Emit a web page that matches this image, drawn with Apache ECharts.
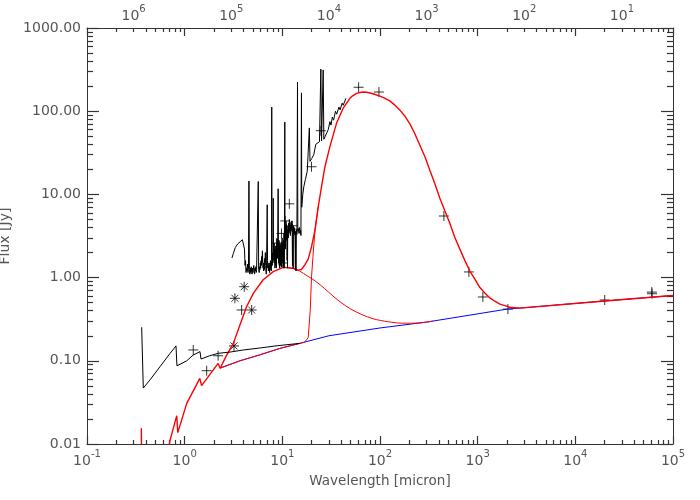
<!DOCTYPE html>
<html>
<head>
<meta charset="utf-8">
<script src="https://cdn.jsdelivr.net/npm/echarts@6.0.0/dist/echarts.min.js"></script>
<style>
  html, body { margin: 0; padding: 0; background: #fff; }
  #chart { width: 700px; height: 500px; }
</style>
</head>
<body>
<div id="chart"></div>
<script>
// SED: wavelength [micron] vs flux [Jy]

// stellar model (black, short wavelengths)
var starModel = [
  [0.363, 0.253], [0.377, 0.047], [0.442, 0.059], [0.559, 0.085], [0.71, 0.123],
  [0.815, 0.151], [0.834, 0.087], [1.05, 0.10], [1.22, 0.117], [1.435, 0.129],
  [1.47, 0.105], [1.8, 0.115], [2.21, 0.123], [2.3, 0.118], [3.0, 0.128],
  [4.0, 0.135], [6.0, 0.143], [9.0, 0.152], [15.1, 0.162]
];

// ISO spectrum (black)
var spectrum = [
  [3.05, 1.72], [3.15, 1.95], [3.3, 2.3], [3.5, 2.55], [3.7, 2.7], [3.9, 2.85], [4.0, 3.0],
  [4.1, 2.2], [4.15, 1.4], [4.2, 1.6], [4.25, 1.15], [4.3, 1.3], [4.35, 1.2], [4.4, 1.45],
  [4.45, 1.15], [4.5, 1.3], [4.55, 14.5], [4.6, 1.25], [4.65, 1.1], [4.7, 1.3], [4.75, 1.15],
  [4.8, 1.35], [4.85, 1.2], [4.9, 1.1], [4.95, 1.3], [5.0, 1.15], [5.05, 1.25], [5.1, 1.4],
  [5.15, 1.2], [5.2, 1.1], [5.25, 1.3], [5.3, 1.2], [5.35, 1.35], [5.4, 1.15], [5.45, 1.25],
  [5.5, 1.2], [5.55, 1.3], [5.6, 1.2], [5.67, 14.3], [5.72, 1.25], [5.8, 1.15], [5.85, 1.35],
  [5.9, 1.25], [5.95, 1.5], [6.0, 1.3], [6.05, 1.6], [6.1, 1.4], [6.15, 1.8], [6.2, 1.5],
  [6.25, 2.1], [6.3, 1.6], [6.35, 1.3], [6.4, 1.5], [6.45, 1.2], [6.5, 1.4], [6.55, 1.25],
  [6.6, 1.7], [6.65, 1.5], [6.7, 2.0], [6.75, 1.4], [6.8, 1.2], [6.85, 1.1], [6.9, 1.5],
  [7.0, 7.5], [7.05, 1.6], [7.1, 1.3], [7.15, 1.5], [7.2, 1.2], [7.25, 1.4], [7.3, 1.2],
  [7.35, 1.35], [7.4, 1.15], [7.45, 1.5], [7.5, 1.3], [7.55, 1.6], [7.6, 1.25], [7.65, 1.5],
  [7.7, 1.2], [7.75, 1.6], [7.79, 112], [7.83, 1.7], [7.9, 1.4], [7.95, 2.0], [8.0, 1.5],
  [8.07, 9.0], [8.12, 2.2], [8.2, 1.6], [8.25, 2.6], [8.3, 1.5], [8.35, 2.2], [8.4, 1.3],
  [8.45, 1.8], [8.5, 1.4], [8.55, 2.4], [8.6, 1.6], [8.65, 2.2], [8.7, 1.3], [8.75, 2.5],
  [8.8, 1.8], [8.85, 2.9], [8.9, 1.7], [8.95, 2.3], [9.06, 11.7], [9.12, 2.6], [9.2, 1.5],
  [9.25, 2.8], [9.3, 1.4], [9.35, 2.3], [9.4, 1.3], [9.45, 2.6], [9.5, 1.6], [9.55, 2.2],
  [9.6, 1.4], [9.65, 2.5], [9.7, 1.5], [9.75, 2.3], [9.8, 1.35], [9.85, 2.7], [9.9, 1.6],
  [9.95, 3.0], [10.0, 1.8], [10.1, 2.6], [10.15, 1.5], [10.2, 2.4], [10.25, 1.3], [10.3, 2.8],
  [10.35, 1.6], [10.4, 3.4], [10.45, 1.3], [10.5, 2.5], [10.6, 74], [10.65, 3.0], [10.7, 3.6],
  [10.75, 2.2], [10.8, 4.2], [10.85, 3.0], [10.9, 4.8], [10.95, 3.2], [11.0, 4.4], [11.1, 2.8],
  [11.15, 3.8], [11.2, 1.6], [11.25, 3.4], [11.3, 1.3], [11.35, 3.6], [11.4, 4.2], [11.5, 3.0],
  [11.6, 4.5], [11.7, 3.4], [11.8, 5.0], [11.9, 3.6], [12.0, 4.6], [12.1, 3.2], [12.2, 4.2],
  [12.3, 3.6], [12.4, 4.8], [12.5, 3.8], [12.6, 4.4], [12.7, 1.4], [12.8, 3.8], [12.9, 1.3],
  [13.0, 4.2], [13.1, 3.4], [13.2, 4.0], [13.3, 3.3], [13.4, 3.9], [13.5, 3.0], [13.6, 1.25],
  [13.7, 3.6], [13.8, 1.2], [13.9, 3.4], [14.0, 3.8], [14.1, 3.3], [14.3, 224], [14.4, 3.6],
  [14.6, 3.9], [14.8, 3.4], [15.0, 4.0], [15.2, 3.4], [15.4, 3.7], [15.5, 3.2], [15.7, 166],
  [15.8, 7.0], [16.2, 10], [16.6, 12.4], [17.2, 15], [18.0, 19], [18.9, 63], [19.2, 25],
  [20, 27], [21, 30], [22, 40], [23, 38], [24, 43], [24.8, 321], [25.2, 44], [26.2, 313],
  [26.6, 46], [27.5, 50], [28.5, 48], [29.5, 60], [30.7, 75], [31.5, 68], [32.5, 85],
  [33.5, 78], [35, 100], [36, 92], [38, 112], [39, 104], [41, 125], [42, 118], [44.8, 143]
];

// photosphere + free-free (blue)
var baseline = [
  [2.3, 0.082], [3.68, 0.10], [5.9, 0.118], [9.45, 0.141], [15.1, 0.162], [30, 0.20],
  [100, 0.248], [300, 0.292], [2000, 0.418], [20000, 0.524], [100000, 0.61]
];

// total model (red)
var totalModel = [
  [0.36, 0.0155], [0.368, 0.0008], [0.6, 0.004], [0.71, 0.0112], [0.83, 0.0219], [0.85, 0.0137],
  [1.05, 0.0308], [1.43, 0.0616], [1.49, 0.0502], [2.2, 0.093], [2.31, 0.0813], [2.69, 0.117],
  [3.15, 0.162], [3.68, 0.269], [4.3, 0.447], [5.05, 0.647], [6.33, 0.936], [8.07, 1.18],
  [10.2, 1.33], [12.9, 1.29], [14.4, 1.23], [15.7, 1.25], [17.0, 1.42], [18.4, 1.67],
  [19.9, 2.35], [21.6, 3.73], [23.3, 7.1], [25.2, 12.4], [27.3, 21.5], [30.7, 37.5],
  [35.8, 71], [42, 109], [49.2, 143], [52, 152], [57.5, 164], [62, 168], [67.3, 170],
  [73, 169], [85, 162], [99.8, 152], [110, 145], [126, 133], [140, 120], [160, 103],
  [180, 87], [203, 70], [225, 55], [256, 39], [290, 28], [323, 19.6], [360, 14],
  [410, 9.0], [460, 6.4], [519, 4.5], [580, 3.1], [657, 2.2], [740, 1.6], [832, 1.2],
  [940, 0.95], [1054, 0.76], [1190, 0.65], [1334, 0.57], [1500, 0.52], [1688, 0.48],
  [1900, 0.46], [2136, 0.44], [2400, 0.435], [2705, 0.43], [20000, 0.524], [100000, 0.61]
];

// warm dust component (thin red)
var warmModel = [
  [10.2, 1.33], [12.9, 1.29], [15, 1.2], [18, 1.05], [22, 0.9], [27, 0.74], [33, 0.6],
  [40, 0.5], [50, 0.42], [65, 0.36], [85, 0.32], [120, 0.295], [170, 0.283], [250, 0.285],
  [350, 0.3]
];

// cold dust component (thin red)
var coldModel = [
  [2.31, 0.0813], [3.68, 0.10], [5.9, 0.118], [9.45, 0.141], [15.1, 0.162], [17.0, 0.168],
  [18.4, 0.19], [19.3, 0.4], [19.9, 1.02], [20.6, 1.8], [21.6, 3.73], [23.3, 7.1]
];

// photometry (+)
var photometry = [
  [1.225, 0.135], [1.68, 0.076], [2.2, 0.115], [3.83, 0.408], [8.7, 2.6], [9.8, 3.4],
  [10.1, 1.5], [10.7, 4.8], [11.8, 7.7], [12.7, 4.2], [19.9, 21.5], [24.8, 58.3],
  [60.4, 194], [97.5, 170], [451, 5.5], [813, 1.17], [1130, 0.585], [2040, 0.418],
  [20000, 0.538], [60700, 0.67], [61000, 0.64]
];

// other photometry (*)
var photometryStar = [[3.2, 0.151], [3.27, 0.564], [4.07, 0.777], [4.85, 0.408]];

// top axis labels: frequency [GHz]
var freqTicks = [1e6, 1e5, 1e4, 1e3, 1e2, 1e1];
var C_GHZ_MICRON = 2.998e5;

var freqPos = freqTicks.map(function (f) { return Math.log10(C_GHZ_MICRON / f); });

var FONT = 'DejaVu Sans';
var TXT = '#555';
var AX = '#333';
var rich = {
  b: { fontSize: 14, lineHeight: 19, verticalAlign: 'bottom', color: TXT, fontFamily: FONT },
  s: { fontSize: 10, lineHeight: 19, verticalAlign: 'top', color: TXT, fontFamily: FONT }
};
function pow10(n) { return '{b|10}{s|' + n + '}'; }

// log axis; minor ticks split each decade into 9 -> 2,3,...,9
function logAxis(pos, min, max, majorLen, minorLen) {
  return {
    type: 'log', logBase: 10, min: min, max: max, position: pos,
    axisLine: { show: true, onZero: false, lineStyle: { color: AX, width: 1 } },
    axisTick: { show: true, inside: true, length: majorLen, lineStyle: { color: AX, width: 1.2 } },
    minorTick: { show: true, splitNumber: 9, length: minorLen, lineStyle: { color: AX, width: 1.2 } },
    axisLabel: { show: false },
    splitLine: { show: false }
  };
}

var plusSym = 'path://M0,5L10,5M5,0L5,10';
var starSym = 'path://M0,5L10,5M5,0L5,10M1.5,1.5L8.5,8.5M1.5,8.5L8.5,1.5';

var chart = echarts.init(document.getElementById('chart'));

var xBottom = logAxis('bottom', 0.1, 1e5, 8, 4);
xBottom.name = 'Wavelength [micron]';
xBottom.nameLocation = 'middle';
xBottom.nameGap = 30;
xBottom.nameTextStyle = { fontFamily: FONT, fontSize: 13.5, color: TXT };
xBottom.axisLabel = {
  show: true, margin: 5, rich: rich,
  formatter: function (v) { return pow10(Math.round(Math.log10(v))); }
};

var yLeft = logAxis('left', 0.01, 1000, 12, 6);
yLeft.name = 'Flux [Jy]';
yLeft.nameLocation = 'middle';
yLeft.nameGap = 74;
yLeft.nameRotate = 90;
yLeft.nameTextStyle = { fontFamily: FONT, fontSize: 14, color: TXT };
yLeft.axisLabel = {
  show: true, margin: 6, fontFamily: FONT, fontSize: 14, color: TXT,
  formatter: function (v) { return v.toFixed(2); }
};

// frequency labels on top, placed in log10(wavelength) space
var topFreqAxis = {
  type: 'value', position: 'top', min: -1, max: 5,
  axisLine: { show: false, onZero: false },
  axisTick: { show: false },
  axisLabel: {
    show: true, margin: 5, customValues: freqPos, rich: rich,
    formatter: function (v) { return pow10(Math.round(Math.log10(C_GHZ_MICRON) - v)); }
  },
  splitLine: { show: false }
};

var option = {
  animation: false,
  grid: { left: 87, right: 27, top: 28, bottom: 56, outerBoundsMode: 'none' },
  xAxis: [xBottom, logAxis('top', 0.1, 1e5, 8, 4), topFreqAxis],
  yAxis: [yLeft, logAxis('right', 0.01, 1000, 12, 6)],
  series: [
    {
      name: 'baseline', type: 'line', data: baseline, showSymbol: false,
      lineStyle: { color: '#0000ff', width: 1 }
    },
    {
      name: 'warm', type: 'line', data: warmModel, showSymbol: false, smooth: 0.3,
      lineStyle: { color: '#ff0000', width: 1 }
    },
    {
      name: 'cold', type: 'line', data: coldModel, showSymbol: false,
      lineStyle: { color: '#ff0000', width: 1 }
    },
    {
      name: 'total', type: 'line', data: totalModel, showSymbol: false,
      lineStyle: { color: '#ff0000', width: 1.4 }
    },
    {
      name: 'star', type: 'line', data: starModel, showSymbol: false,
      lineStyle: { color: '#000', width: 1 }
    },
    {
      name: 'spectrum', type: 'line', data: spectrum, showSymbol: false,
      lineStyle: { color: '#000', width: 1 }
    },
    {
      name: 'phot', type: 'scatter', data: photometry, symbol: plusSym, symbolSize: 10,
      itemStyle: { color: 'rgba(0,0,0,0)', borderColor: '#000', borderWidth: 1 }
    },
    {
      name: 'phot2', type: 'scatter', data: photometryStar, symbol: starSym, symbolSize: 10,
      itemStyle: { color: 'rgba(0,0,0,0)', borderColor: '#000', borderWidth: 1 }
    }
  ]
};

chart.setOption(option);
</script>
</body>
</html>
